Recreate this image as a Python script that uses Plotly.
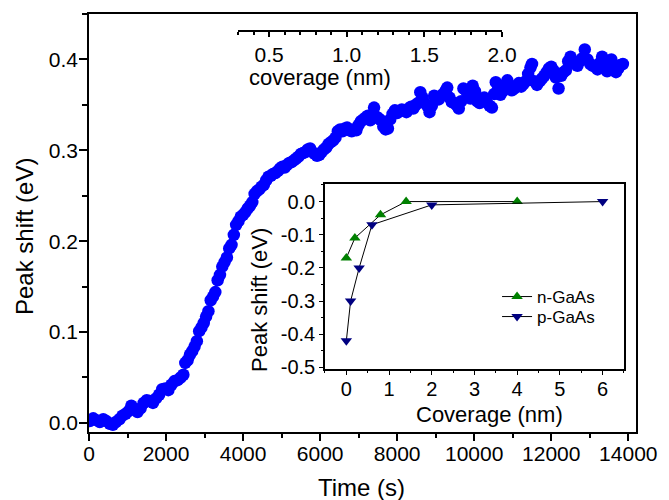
import plotly.graph_objects as go

# ---------------- data ----------------
time_s = [20, 110, 190, 280, 370, 450, 540, 620, 700, 790, 870, 950, 1030, 1100, 1180, 1260, 1340,
          1420, 1500, 1580, 1660, 1740, 1820, 1900, 1980, 2060, 2140, 2220, 2300, 2380, 2450, 2500,
          2560, 2620, 2680, 2740, 2800, 2860, 2920, 2980, 3040, 3100, 3160, 3220, 3280, 3340, 3400,
          3460, 3520, 3580, 3640, 3700, 3760, 3820, 3880, 3940, 4000, 4060, 4120, 4180, 4240, 4300,
          4360, 4420, 4480, 4540, 4600, 4660, 4720, 4780, 4840, 4900, 4960, 5020, 5080, 5140, 5200,
          5260, 5320, 5380, 5440, 5500, 5560, 5620, 5680, 5740, 5800, 5860, 5920, 5980, 6040, 6100,
          6160, 6220, 6280, 6340, 6400, 6460, 6520, 6580, 6640, 6700, 6760, 6820, 6880, 6940, 7000,
          7060, 7120, 7180, 7240, 7300, 7360, 7400, 7460, 7520, 7580, 7640, 7700, 7760, 7820, 7880,
          7940, 8000, 8060, 8120, 8180, 8240, 8300, 8360, 8420, 8480, 8540, 8600, 8660, 8720, 8780,
          8840, 8900, 8960, 9020, 9080, 9140, 9200, 9260, 9300, 9360, 9420, 9480, 9540, 9600, 9660,
          9720, 9780, 9840, 9900, 9960, 10020, 10080, 10140, 10200, 10260, 10320, 10400, 10460,
          10520, 10560, 10620, 10680, 10740, 10800, 10860, 10920, 10980, 11040, 11100, 11160, 11220,
          11280, 11340, 11400, 11460, 11500, 11560, 11630, 11700, 11760, 11820, 11880, 11940, 12000,
          12060, 12120, 12190, 12260, 12320, 12380, 12440, 12500, 12560, 12620, 12680, 12740, 12800,
          12870, 12940, 13010, 13080, 13140, 13200, 13260, 13320, 13390, 13450, 13510, 13560, 13620,
          13680, 13740, 13800, 13860]

peak_shift = [0.002, 0.005, 0.003, 0.001, 0.004, 0.002, -0.001, -0.002, 0.001, 0.004, 0.008, 0.010,
              0.013, 0.019, 0.015, 0.012, 0.016, 0.022, 0.025, 0.024, 0.022, 0.027, 0.031, 0.037,
              0.038, 0.036, 0.042, 0.046, 0.047, 0.050, 0.053, 0.066, 0.069, 0.075, 0.079, 0.084,
              0.090, 0.101, 0.105, 0.110, 0.117, 0.123, 0.135, 0.139, 0.144, 0.157, 0.163, 0.172,
              0.177, 0.182, 0.192, 0.196, 0.207, 0.218, 0.222, 0.227, 0.229, 0.232, 0.236, 0.239,
              0.243, 0.252, 0.255, 0.257, 0.260, 0.262, 0.267, 0.271, 0.272, 0.274, 0.275, 0.277,
              0.280, 0.282, 0.281, 0.284, 0.286, 0.287, 0.289, 0.291, 0.293, 0.296, 0.297, 0.298,
              0.301, 0.302, 0.298, 0.296, 0.294, 0.295, 0.298, 0.301, 0.303, 0.307, 0.309, 0.311,
              0.314, 0.321, 0.323, 0.321, 0.324, 0.325, 0.322, 0.321, 0.323, 0.322, 0.328, 0.332,
              0.334, 0.336, 0.338, 0.333, 0.336, 0.347, 0.337, 0.335, 0.333, 0.326, 0.323, 0.324,
              0.334, 0.340, 0.344, 0.341, 0.343, 0.345, 0.344, 0.342, 0.346, 0.348, 0.346, 0.350,
              0.352, 0.364, 0.358, 0.352, 0.349, 0.342, 0.349, 0.360, 0.357, 0.356, 0.360, 0.362,
              0.366, 0.369, 0.358, 0.353, 0.352, 0.350, 0.346, 0.354, 0.368, 0.366, 0.362, 0.357,
              0.371, 0.365, 0.354, 0.352, 0.356, 0.358, 0.353, 0.349, 0.347, 0.362, 0.375, 0.368,
              0.361, 0.365, 0.372, 0.377, 0.370, 0.366, 0.368, 0.371, 0.374, 0.370, 0.373, 0.376,
              0.384, 0.391, 0.395, 0.376, 0.372, 0.376, 0.379, 0.382, 0.386, 0.390, 0.392, 0.388,
              0.380, 0.368, 0.382, 0.386, 0.388, 0.398, 0.403, 0.397, 0.395, 0.393, 0.398, 0.401,
              0.411, 0.400, 0.395, 0.393, 0.392, 0.389, 0.396, 0.403, 0.395, 0.387, 0.397, 0.400,
              0.392, 0.386, 0.390, 0.394, 0.395]

n_gaas_cov = [0.0, 0.2, 0.8, 1.4, 4.0]
n_gaas_shift = [-0.17, -0.11, -0.04, 0.0, 0.0]
p_gaas_cov = [0.0, 0.1, 0.3, 0.6, 2.0, 6.0]
p_gaas_shift = [-0.42, -0.30, -0.20, -0.07, -0.01, 0.0]

main_x_ticks = [0, 2000, 4000, 6000, 8000, 10000, 12000, 14000]
main_y_ticks = [0.0, 0.1, 0.2, 0.3, 0.4]
top_cov_ticks = [0.5, 1.0, 1.5, 2.0]
top_cov_labels = ["0.5", "1.0", "1.5", "2.0"]
inset_x_ticks = [0, 1, 2, 3, 4, 5, 6]
inset_y_ticks = [0.0, -0.1, -0.2, -0.3, -0.4, -0.5]
inset_y_labels = ["0.0", "-0.1", "-0.2", "-0.3", "-0.4", "-0.5"]

FONT = "Liberation Sans, Arial, sans-serif"
BLACK = "#000000"

fig = go.Figure()
fig.add_trace(go.Scatter(x=time_s, y=peak_shift, mode="markers",
                         marker=dict(size=12.5, color="#0000ff", line=dict(width=0)),
                         showlegend=False, xaxis="x", yaxis="y", hoverinfo="skip"))
fig.add_trace(go.Scatter(x=n_gaas_cov, y=n_gaas_shift, mode="lines+markers", name="n-GaAs",
                         line=dict(color=BLACK, width=1),
                         marker=dict(symbol="triangle-up", size=10, color="#008000", line=dict(width=0)),
                         xaxis="x2", yaxis="y3", legend="legend"))
fig.add_trace(go.Scatter(x=p_gaas_cov, y=p_gaas_shift, mode="lines+markers", name="p-GaAs",
                         line=dict(color=BLACK, width=1),
                         marker=dict(symbol="triangle-down", size=10, color="#000080", line=dict(width=0)),
                         xaxis="x2", yaxis="y3", legend="legend2"))
# invisible helper so the secondary "coverage" axis gets drawn
fig.add_trace(go.Scatter(x=top_cov_ticks, y=[0.5] * len(top_cov_ticks), mode="none",
                         showlegend=False, hoverinfo="skip", xaxis="x4", yaxis="y5"))

common = dict(showgrid=False, zeroline=False, linecolor=BLACK, tickcolor=BLACK)
legend_common = dict(xanchor="left", yanchor="middle", bgcolor="rgba(0,0,0,0)",
                     font=dict(size=17, family=FONT, color=BLACK), borderwidth=0)

fig.update_layout(
    width=669, height=500,
    margin=dict(l=89, r=33, t=14, b=68),
    paper_bgcolor="white", plot_bgcolor="rgba(0,0,0,0)",
    font=dict(family=FONT, color=BLACK),
    xaxis=dict(domain=[0, 1], anchor="y", range=[0, 14200], tickmode="array", tickvals=main_x_ticks,
               tickformat="d", ticklabelstandoff=-5,
               ticks="outside", ticklen=7, tickwidth=1.5, showline=True, linewidth=1.6, mirror=True,
               minor=dict(tickmode="linear", tick0=0, dtick=1000, ticks="outside", ticklen=4,
                          tickwidth=1.5, tickcolor=BLACK),
               tickfont=dict(size=21), **common),
    yaxis=dict(domain=[0, 1], anchor="x", range=[-0.01, 0.45], tickmode="array", tickvals=main_y_ticks,
               tickformat=".1f", ticklabelstandoff=-3, ticks="outside", ticklen=8, tickwidth=1.5,
               showline=True, linewidth=1.6, mirror=True,
               minor=dict(tickmode="linear", tick0=0, dtick=0.05, ticks="outside", ticklen=5,
                          tickwidth=1.5, tickcolor=BLACK),
               tickfont=dict(size=21), **common),
    yaxis2=dict(overlaying="y", side="right", anchor="x", range=[-0.01, 0.45], tickmode="array",
                tickvals=main_y_ticks, ticks="inside", ticklen=7, tickwidth=1.5, showticklabels=False,
                showline=False,
                minor=dict(tickmode="linear", tick0=0, dtick=0.05, ticks="inside", ticklen=5,
                           tickwidth=1.5, tickcolor=BLACK), **common),
    # inset
    xaxis2=dict(domain=[0.4314, 0.978], anchor="y3", range=[-0.5, 6.5], tickmode="array",
                tickvals=inset_x_ticks, ticklabelstandoff=-3, ticks="outside", ticklen=4, tickwidth=1.3,
                showline=True, linewidth=1.5, mirror=True,
                minor=dict(tickmode="linear", tick0=0, dtick=0.5, ticks="outside", ticklen=2.5,
                           tickwidth=1.3, tickcolor=BLACK),
                tickfont=dict(size=20), **common),
    yaxis3=dict(domain=[0.1507, 0.5933], anchor="x2", range=[-0.505, 0.053], tickmode="array",
                tickvals=inset_y_ticks, ticktext=inset_y_labels, ticks="outside", ticklen=4,
                tickwidth=1.3, showline=True, linewidth=1.5, mirror=True,
                minor=dict(tickmode="linear", tick0=0, dtick=0.05, ticks="outside", ticklen=2.5,
                           tickwidth=1.3, tickcolor=BLACK),
                tickfont=dict(size=20), **common),
    xaxis3=dict(overlaying="x2", side="top", anchor="y3", range=[-0.5, 6.5], tickmode="array",
                tickvals=inset_x_ticks, ticks="inside", ticklen=4, tickwidth=1.3, showticklabels=False,
                showline=False,
                minor=dict(tickmode="linear", tick0=0, dtick=0.5, ticks="inside", ticklen=2.5,
                           tickwidth=1.3, tickcolor=BLACK), **common),
    yaxis4=dict(overlaying="y3", side="right", anchor="x2", range=[-0.505, 0.053], tickmode="array",
                tickvals=inset_y_ticks, ticks="inside", ticklen=4, tickwidth=1.3, showticklabels=False,
                showline=False,
                minor=dict(tickmode="linear", tick0=0, dtick=0.05, ticks="inside", ticklen=2.5,
                           tickwidth=1.3, tickcolor=BLACK), **common),
    # top coverage axis
    xaxis4=dict(domain=[0.2724, 0.755], anchor="y5", side="bottom", range=[0.3, 2.0], tickmode="array",
                tickvals=top_cov_ticks, ticktext=top_cov_labels, ticks="outside", ticklen=5,
                tickwidth=1.5, showline=True, linewidth=1.6,
                minor=dict(tickmode="linear", tick0=0, dtick=0.1, ticks="outside", ticklen=3,
                           tickwidth=1.5, tickcolor=BLACK),
                tickfont=dict(size=21), **common),
    yaxis5=dict(domain=[0.9617, 0.99], anchor="x4", visible=False, range=[0, 1]),
    legend=dict(x=0.746, y=(432 - 297) / 418, **legend_common),
    legend2=dict(x=0.746, y=(432 - 317) / 418, **legend_common),
    annotations=[
        dict(text="Peak shift (eV)", x=-0.1188, y=0.4665, xref="paper", yref="paper", textangle=-90,
             showarrow=False, xanchor="center", yanchor="middle", font=dict(size=24)),
        dict(text="Time (s)", x=0.499, y=(432 - 487) / 418, xref="paper", yref="paper", showarrow=False,
             xanchor="center", yanchor="middle", font=dict(size=24)),
        dict(text="coverage (nm)", x=0.4223, y=0.8469, xref="paper", yref="paper", showarrow=False,
             xanchor="center", yanchor="middle", font=dict(size=22)),
        dict(text="Peak shift (eV)", x=0.3126, y=0.3158, xref="paper", yref="paper", textangle=-90,
             showarrow=False, xanchor="center", yanchor="middle", font=dict(size=22)),
        dict(text="Coverage (nm)", x=0.7313, y=(432 - 414) / 418, xref="paper", yref="paper",
             showarrow=False, xanchor="center", yanchor="middle", font=dict(size=22)),
    ],
)

fig.write_html("out.html", config={"displayModeBar": False},
               post_script="document.body.style.margin='0';")
